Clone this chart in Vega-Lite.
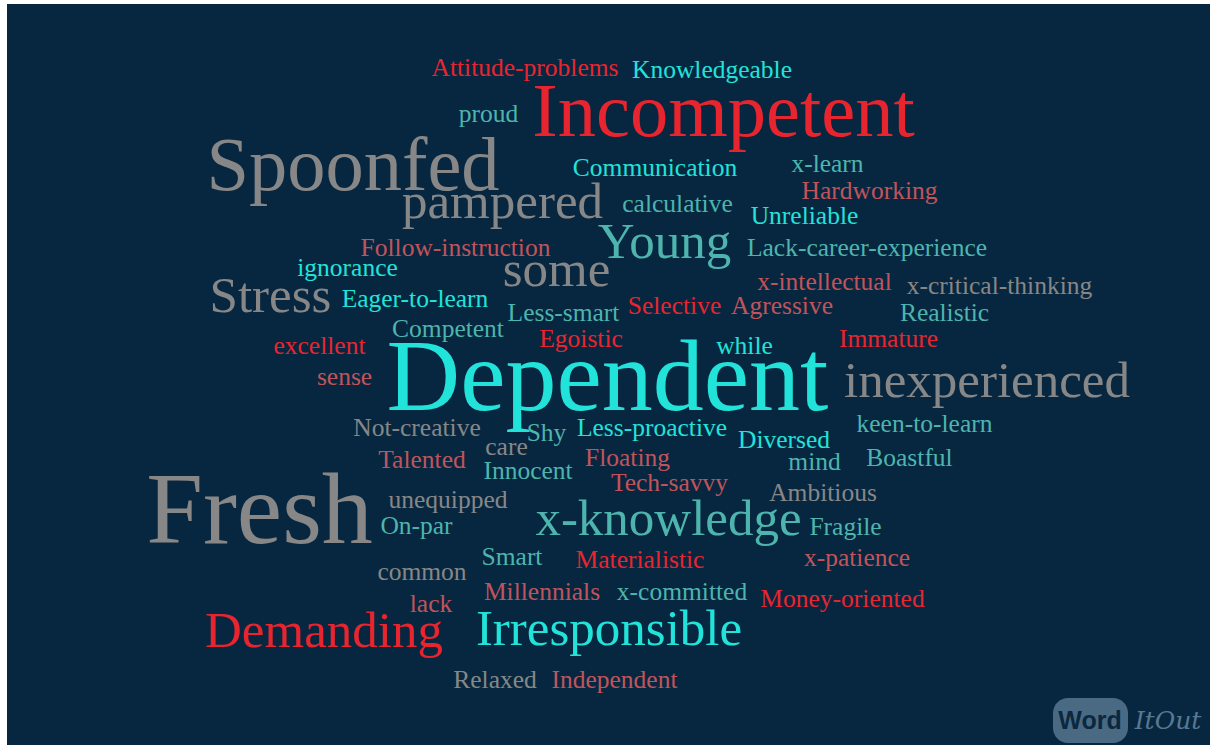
{
  "$schema": "https://vega.github.io/schema/vega-lite/v6.json",
  "width": 1203,
  "height": 741,
  "padding": {"left": 7, "top": 4, "right": 0, "bottom": 4},
  "autosize": {"type": "none"},
  "background": "white",
  "config": {"view": {"fill": "#072740", "stroke": null}},
  "datasets": {
    "words": [
      {"word": "Attitude-problems", "x": 525, "y": 76, "count": 1, "tone": "red"},
      {"word": "Knowledgeable", "x": 712, "y": 78, "count": 1, "tone": "cyan"},
      {"word": "proud", "x": 488.5, "y": 122, "count": 1, "tone": "teal"},
      {"word": "Incompetent", "x": 723.5, "y": 136, "count": 3, "tone": "red"},
      {"word": "Spoonfed", "x": 353, "y": 190, "count": 3, "tone": "grey"},
      {"word": "Communication", "x": 655, "y": 176, "count": 1, "tone": "cyan"},
      {"word": "x-learn", "x": 827.5, "y": 172, "count": 1, "tone": "teal"},
      {"word": "Hardworking", "x": 869.5, "y": 199, "count": 1, "tone": "rose"},
      {"word": "pampered", "x": 502.5, "y": 218, "count": 2, "tone": "grey"},
      {"word": "calculative", "x": 677.5, "y": 212, "count": 1, "tone": "teal"},
      {"word": "Unreliable", "x": 804.5, "y": 224, "count": 1, "tone": "cyan"},
      {"word": "Young", "x": 664.5, "y": 258, "count": 2, "tone": "teal"},
      {"word": "Follow-instruction", "x": 455.5, "y": 256, "count": 1, "tone": "rose"},
      {"word": "Lack-career-experience", "x": 867, "y": 256, "count": 1, "tone": "teal"},
      {"word": "ignorance", "x": 347.5, "y": 276, "count": 1, "tone": "cyan"},
      {"word": "some", "x": 556.5, "y": 286, "count": 2, "tone": "grey"},
      {"word": "x-intellectual", "x": 824.5, "y": 290, "count": 1, "tone": "rose"},
      {"word": "x-critical-thinking", "x": 999.5, "y": 294, "count": 1, "tone": "grey"},
      {"word": "Stress", "x": 270.5, "y": 312, "count": 2, "tone": "grey"},
      {"word": "Eager-to-learn", "x": 415, "y": 307, "count": 1, "tone": "cyan"},
      {"word": "Less-smart", "x": 563.5, "y": 321, "count": 1, "tone": "teal"},
      {"word": "Selective", "x": 674.5, "y": 314, "count": 1, "tone": "red"},
      {"word": "Agressive", "x": 782, "y": 314, "count": 1, "tone": "rose"},
      {"word": "Realistic", "x": 944.5, "y": 321, "count": 1, "tone": "teal"},
      {"word": "Competent", "x": 448, "y": 337, "count": 1, "tone": "teal"},
      {"word": "Egoistic", "x": 581, "y": 347, "count": 1, "tone": "red"},
      {"word": "excellent", "x": 319.5, "y": 354, "count": 1, "tone": "red"},
      {"word": "while", "x": 744.5, "y": 354, "count": 1, "tone": "cyan"},
      {"word": "Immature", "x": 888.5, "y": 347, "count": 1, "tone": "red"},
      {"word": "Dependent", "x": 607.5, "y": 410, "count": 4, "tone": "cyan"},
      {"word": "sense", "x": 344.5, "y": 385, "count": 1, "tone": "rose"},
      {"word": "inexperienced", "x": 987, "y": 397, "count": 2, "tone": "grey"},
      {"word": "Not-creative", "x": 417, "y": 436, "count": 1, "tone": "grey"},
      {"word": "Shy", "x": 546.5, "y": 441, "count": 1, "tone": "teal"},
      {"word": "Less-proactive", "x": 652, "y": 436, "count": 1, "tone": "cyan"},
      {"word": "keen-to-learn", "x": 924.5, "y": 432, "count": 1, "tone": "teal"},
      {"word": "care", "x": 506.5, "y": 455, "count": 1, "tone": "grey"},
      {"word": "Diversed", "x": 784, "y": 448, "count": 1, "tone": "cyan"},
      {"word": "Talented", "x": 422, "y": 468, "count": 1, "tone": "rose"},
      {"word": "Innocent", "x": 528, "y": 479, "count": 1, "tone": "teal"},
      {"word": "Floating", "x": 627.5, "y": 466, "count": 1, "tone": "rose"},
      {"word": "mind", "x": 814.5, "y": 470, "count": 1, "tone": "teal"},
      {"word": "Boastful", "x": 909.5, "y": 466, "count": 1, "tone": "teal"},
      {"word": "Tech-savvy", "x": 669.5, "y": 491, "count": 1, "tone": "rose"},
      {"word": "Ambitious", "x": 823, "y": 501, "count": 1, "tone": "grey"},
      {"word": "Fresh", "x": 259.5, "y": 543, "count": 4, "tone": "grey"},
      {"word": "unequipped", "x": 448, "y": 508, "count": 1, "tone": "grey"},
      {"word": "x-knowledge", "x": 668.5, "y": 535, "count": 2, "tone": "teal"},
      {"word": "On-par", "x": 416.5, "y": 534, "count": 1, "tone": "teal"},
      {"word": "Fragile", "x": 845.5, "y": 535, "count": 1, "tone": "teal"},
      {"word": "Smart", "x": 512, "y": 565, "count": 1, "tone": "teal"},
      {"word": "Materialistic", "x": 640, "y": 568, "count": 1, "tone": "red"},
      {"word": "x-patience", "x": 857, "y": 566, "count": 1, "tone": "rose"},
      {"word": "common", "x": 422, "y": 580, "count": 1, "tone": "grey"},
      {"word": "Millennials", "x": 542, "y": 600, "count": 1, "tone": "rose"},
      {"word": "x-committed", "x": 682, "y": 600, "count": 1, "tone": "teal"},
      {"word": "Money-oriented", "x": 842.5, "y": 607, "count": 1, "tone": "red"},
      {"word": "lack", "x": 431, "y": 612, "count": 1, "tone": "rose"},
      {"word": "Demanding", "x": 324, "y": 647, "count": 2, "tone": "red"},
      {"word": "Irresponsible", "x": 609, "y": 645, "count": 2, "tone": "cyan"},
      {"word": "Relaxed", "x": 495, "y": 688, "count": 1, "tone": "grey"},
      {"word": "Independent", "x": 614.5, "y": 688, "count": 1, "tone": "rose"}
    ],
    "logo": [
      {"x": 1053, "x2": 1128, "y": 698, "y2": 743}
    ],
    "logotext": [
      {"part": "Word", "x": 1090, "y": 729, "style": "bold"},
      {"part": "ItOut", "x": 1168, "y": 729, "style": "italic"}
    ]
  },
  "layer": [
    {
      "data": {"name": "logo"},
      "mark": {"type": "rect", "cornerRadius": 15, "fill": "#4A6A83"},
      "encoding": {
        "x": {"field": "x", "type": "quantitative", "scale": {"domain": [7, 1210], "nice": false, "zero": false}, "axis": null},
        "x2": {"field": "x2"},
        "y": {"field": "y", "type": "quantitative", "scale": {"domain": [4, 745], "nice": false, "zero": false, "reverse": true}, "axis": null},
        "y2": {"field": "y2"}
      }
    },
    {
      "data": {"name": "logotext"},
      "transform": [{"filter": "datum.style === 'bold'"}],
      "mark": {"type": "text", "font": "Liberation Sans", "fontWeight": "bold", "fontSize": 25, "align": "center", "baseline": "alphabetic", "fill": "#0B2840"},
      "encoding": {
        "x": {"field": "x", "type": "quantitative", "scale": {"domain": [7, 1210], "nice": false, "zero": false}, "axis": null},
        "y": {"field": "y", "type": "quantitative", "scale": {"domain": [4, 745], "nice": false, "zero": false, "reverse": true}, "axis": null},
        "text": {"field": "part"}
      }
    },
    {
      "data": {"name": "logotext"},
      "transform": [{"filter": "datum.style === 'italic'"}],
      "mark": {"type": "text", "font": "DejaVu Serif", "fontStyle": "italic", "fontSize": 25, "align": "center", "baseline": "alphabetic", "fill": "#587891"},
      "encoding": {
        "x": {"field": "x", "type": "quantitative", "scale": {"domain": [7, 1210], "nice": false, "zero": false}, "axis": null},
        "y": {"field": "y", "type": "quantitative", "scale": {"domain": [4, 745], "nice": false, "zero": false, "reverse": true}, "axis": null},
        "text": {"field": "part"}
      }
    },
    {
      "data": {"name": "words"},
      "mark": {"type": "text", "font": "Liberation Serif", "align": "center", "baseline": "alphabetic"},
      "encoding": {
        "x": {"field": "x", "type": "quantitative", "scale": {"domain": [7, 1210], "nice": false, "zero": false}, "axis": null},
        "y": {"field": "y", "type": "quantitative", "scale": {"domain": [4, 745], "nice": false, "zero": false, "reverse": true}, "axis": null},
        "text": {"field": "word"},
        "size": {"field": "count", "type": "quantitative", "scale": {"domain": [0, 4], "range": [0, 102], "zero": true}, "legend": null},
        "color": {"field": "tone", "type": "nominal", "scale": {"domain": ["red", "rose", "grey", "cyan", "teal"], "range": ["#E8252F", "#C1545B", "#878787", "#22E3DA", "#4DB5AE"]}, "legend": null}
      }
    }
  ]
}
